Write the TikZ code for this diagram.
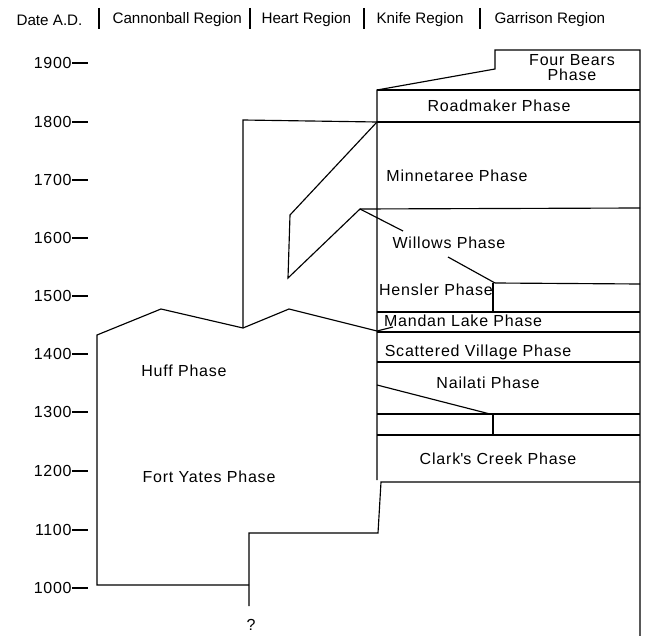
\documentclass[tikz,border=0pt]{standalone}
\usepackage{fontspec}
\setmainfont{Liberation Sans}
\begin{document}
\begin{tikzpicture}[x=1pt,y=-1pt,line width=1.1pt,line join=miter,
  hdr/.style={font=\fontsize{15.2}{18}\selectfont,inner sep=0pt},
  tick/.style={font=\fontsize{16}{18}\selectfont\addfontfeature{LetterSpace=4},inner sep=0pt,anchor=east},
  lbl/.style={font=\fontsize{16}{18}\selectfont\addfontfeature{LetterSpace=5},inner sep=0pt,align=center},
  rule/.style={line width=1.15pt}]
\useasboundingbox (0,0) rectangle (645,636);
% header
\node[hdr,anchor=west] (hd) at (16,20) {Date A.D.};
\node[hdr,anchor=west] (hc) at (112,20) {Cannonball Region};
\node[hdr,anchor=west] (hh) at (261,20) {Heart Region};
\node[hdr,anchor=west] (hk) at (376,20) {Knife Region};
\node[hdr,anchor=west] (hg) at (494,20) {Garrison Region};
\foreach \x in {99,250,364,480} \draw[rule] (\x,8) -- (\x,29);
% ticks
\foreach \d/\y in {1900/63,1800/122,1700/180,1600/238,1500/296,1400/354,1300/412,1200/471,1100/530,1000/588}{
  \node[tick] (t\d) at (72,\y) {\d};
  \draw[rule] (t\d.east) -- (88,\y);
}
% coordinates
\coordinate (a1) at (97,585);
\coordinate (a2) at (97,335);
\coordinate (a3) at (161,309);
\coordinate (a4) at (243,328);
\coordinate (a5) at (289,309);
\coordinate (a6) at (377,331);
\coordinate (a7) at (393,327);
\coordinate (b1) at (249,585);
\coordinate (b2) at (249,606);
\coordinate (b3) at (249,533);
\coordinate (b4) at (378,533);
\coordinate (b5) at (381,482);
\coordinate (h1) at (243,120);
\coordinate (h2) at (377,122);
\coordinate (p1) at (290,215);
\coordinate (p2) at (288,278);
\coordinate (p3) at (360,209);
\coordinate (w1) at (403,231);
\coordinate (w2) at (448,257);
\coordinate (w3) at (495,283);
\coordinate (f1) at (377,90);
\coordinate (f2) at (495,69);
\coordinate (f3) at (495,50);
\coordinate (f4) at (640,50);
\coordinate (f5) at (640,636);
% Cannonball / Heart outline
\draw[rule] (a7) -- (a6) -- (a5) -- (a4) -- (a3) -- (a2) -- (a1) -- (b1);
\draw[rule] (b2) -- (b3) -- (b4) -- (b5) -- (640,482);
\draw[rule] (a4) -- (h1) -- (h2);
\draw[rule] (h2) -- (p1) -- (p2) -- (p3) -- (w1);
\draw[rule] (w2) -- (w3);
% Knife / Garrison frame
\draw[rule] (377,480) -- (f1) -- (f2) -- (f3) -- (f4) -- (f5);
\draw[rule] (f1) -- (640,90);
\draw[rule] (h2) -- (640,122);
\draw[rule] (p3) -- (640,208);
\draw[rule] (w3) -- (640,284);
\draw[rule] (493,283) -- (493,312);
\draw[rule] (377,312) -- (640,312);
\draw[rule] (377,332) -- (640,332);
\draw[rule] (377,362) -- (640,362);
\draw[rule] (377,385) -- (490,414);
\draw[rule] (377,414) -- (640,414);
\draw[rule] (493,414) -- (493,435);
\draw[rule] (377,435) -- (640,435);
% labels
\node[lbl] (fb) at (572,68) {Four Bears\\[-3pt]Phase};
\node[lbl] (rm) at (499,106) {Roadmaker Phase};
\node[lbl] (mt) at (457,176) {Minnetaree Phase};
\node[lbl] (wl) at (449,243) {Willows Phase};
\node[lbl] (hs) at (436,290) {Hensler Phase};
\node[lbl] (ml) at (463,321) {Mandan Lake Phase};
\node[lbl] (sv) at (478,352) {Scattered Village Phase};
\node[lbl] (nl) at (488,383) {Nailati Phase};
\node[lbl] (cc) at (498,459) {Clark\textquotesingle s Creek Phase};
\node[lbl] (hf) at (184,371) {Huff Phase};
\node[lbl] (fy) at (209,477) {Fort Yates Phase};
\node[lbl] (q) at (251,625) {?};
\end{tikzpicture}
\end{document}
